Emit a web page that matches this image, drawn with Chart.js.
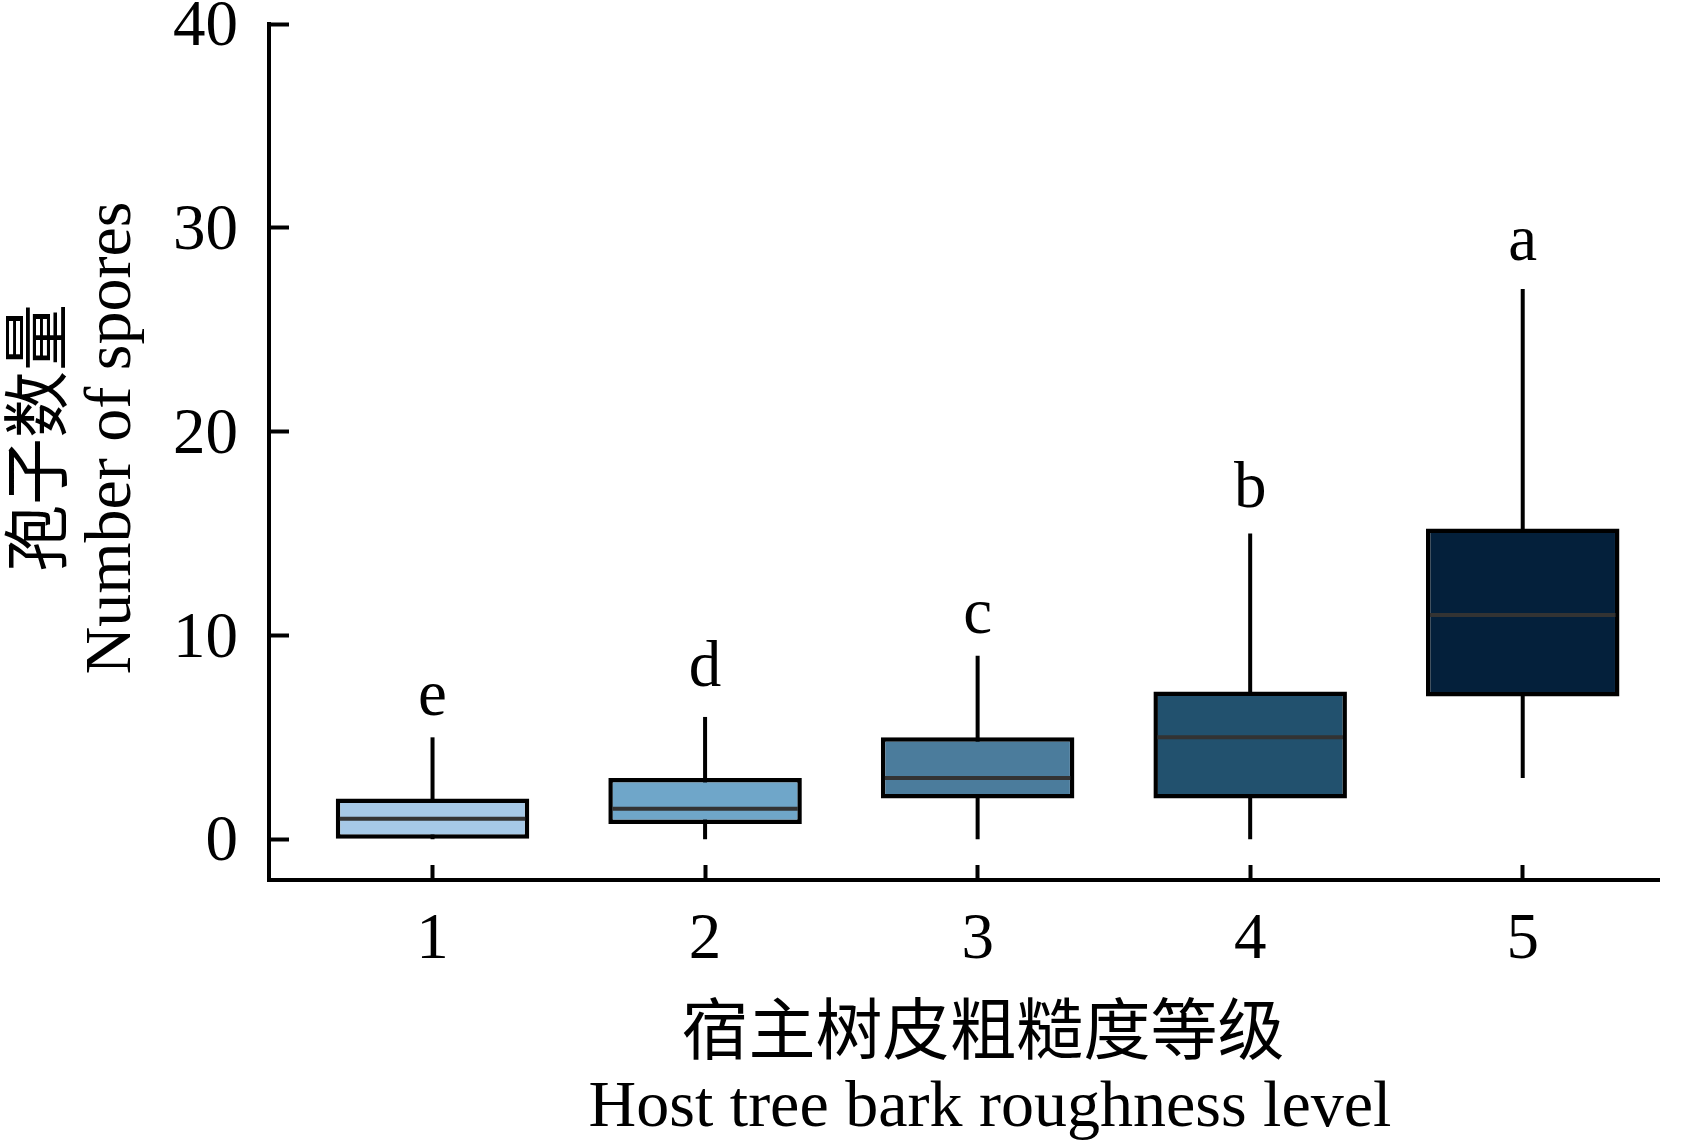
<!DOCTYPE html>
<html>
<head>
<meta charset="utf-8">
<script src="https://cdn.jsdelivr.net/npm/chart.js@4.4.1/dist/chart.umd.min.js"></script>
<style>
  html, body { margin: 0; padding: 0; background: #fff; }
  #wrap { width: 1689px; height: 1143px; }
</style>
</head>
<body>
<div id="wrap"><canvas id="mycanvas" width="1689" height="1143"></canvas></div>
<script>
// box plot values
var levels = [1, 2, 3, 4, 5];
var whiskerLow = [0, 0, 0, 0, 3];
var q1 = [0, 0.75, 2, 2, 7];
var median = [1, 1.5, 3, 5, 11];
var q3 = [2, 3, 5, 7.25, 15.25];
var whiskerHigh = [5, 6, 9, 15, 27];
var letters = ['e', 'd', 'c', 'b', 'a'];
var letterAt = [6.1, 7.5, 10.1, 16.3, 28.4];
var yTicks = [0, 10, 20, 30, 40];
var boxColors = ['#a6c9e7', '#6fa6c9', '#4b7c9c', '#22516e', '#04203b'];
var xTitle = ['宿主树皮粗糙度等级', 'Host tree bark roughness level'];
var yTitle = ['孢子数量', 'Number of spores'];

var serif = '"Liberation Serif", "Times New Roman", "Noto Sans CJK SC", serif';

var boxParts = {
    id: 'boxParts',
    beforeDatasetsDraw: function (chart) {
        var ctx = chart.ctx, xs = chart.scales.x, ys = chart.scales.y;
        ctx.save();
        ctx.strokeStyle = '#000';
        ctx.lineWidth = 4;
        for (var i = 0; i < levels.length; i++) {
            var px = xs.getPixelForValue(levels[i]);
            ctx.beginPath();
            ctx.moveTo(px, ys.getPixelForValue(whiskerLow[i]));
            ctx.lineTo(px, ys.getPixelForValue(whiskerHigh[i]));
            ctx.stroke();
        }
        ctx.restore();
    },
    afterDatasetsDraw: function (chart) {
        var ctx = chart.ctx, xs = chart.scales.x, ys = chart.scales.y;
        var bars = chart.getDatasetMeta(0).data;
        ctx.save();
        ctx.strokeStyle = '#333333';
        ctx.lineWidth = 4;
        for (var i = 0; i < bars.length; i++) {
            var b = bars[i];
            var py = ys.getPixelForValue(median[i]);
            ctx.beginPath();
            ctx.moveTo(b.x - b.width / 2 + 4, py);
            ctx.lineTo(b.x + b.width / 2 - 4, py);
            ctx.stroke();
        }
        ctx.fillStyle = '#000';
        ctx.font = '65px ' + serif;
        ctx.textAlign = 'center';
        ctx.textBaseline = 'alphabetic';
        for (var j = 0; j < letters.length; j++) {
            ctx.fillText(letters[j], xs.getPixelForValue(levels[j]), ys.getPixelForValue(letterAt[j]));
        }
        ctx.restore();
    },
    afterDraw: function (chart) {
        var ctx = chart.ctx;
        ctx.save();
        ctx.fillStyle = '#000';
        ctx.textAlign = 'center';
        // x title
        ctx.font = '67px ' + serif;
        ctx.textBaseline = 'middle';
        ctx.fillText(xTitle[0], 983, 1036);
        ctx.font = '66px ' + serif;
        ctx.textBaseline = 'alphabetic';
        ctx.fillText(xTitle[1], 990, 1126);
        // y title
        ctx.save();
        ctx.translate(43, 438);
        ctx.rotate(-Math.PI / 2);
        ctx.font = '67px ' + serif;
        ctx.textBaseline = 'middle';
        ctx.fillText(yTitle[0], 0, 0);
        ctx.restore();
        ctx.save();
        ctx.translate(130, 438);
        ctx.rotate(-Math.PI / 2);
        ctx.font = '66px ' + serif;
        ctx.textBaseline = 'alphabetic';
        ctx.fillText(yTitle[1], 0, 0);
        ctx.restore();
        ctx.restore();
    }
};

var ctx = document.getElementById('mycanvas');

var boxChart = new Chart(ctx, {
    type: 'bar',
    data: {
        datasets: [
            {
                data: levels.map(function (x, i) { return { x: x, y: [q1[i], q3[i]] }; }),
                backgroundColor: boxColors,
                borderColor: '#000',
                borderWidth: 4.5,
                borderSkipped: false,
                barPercentage: 0.71,
                categoryPercentage: 1
            }
        ]
    },
    options: {
        responsive: false,
        animation: false,
        devicePixelRatio: 1,
        layout: { padding: { top: 24, right: 30, left: 0, bottom: 0 } },
        plugins: { legend: { display: false }, tooltip: { enabled: false } },
        scales: {
            x: {
                type: 'linear',
                min: 0.4,
                max: 5.5,
                offset: false,
                afterBuildTicks: function (s) { s.ticks = levels.map(function (v) { return { value: v }; }); },
                afterFit: function (s) { s.height = 263; s.paddingLeft = 0; s.paddingRight = 0; },
                ticks: { font: { family: serif, size: 65 }, color: '#000', padding: 37, maxRotation: 0 },
                grid: { offset: false, drawOnChartArea: false, drawTicks: true, tickLength: -15, tickWidth: 4, tickColor: '#000' },
                border: { display: true, color: '#000', width: 4 }
            },
            y: {
                min: -2,
                max: 40,
                afterBuildTicks: function (s) { s.ticks = yTicks.map(function (v) { return { value: v }; }); },
                afterFit: function (s) { s.width = 269; s.paddingTop = 0; s.paddingBottom = 0; },
                ticks: { font: { family: serif, size: 65 }, color: '#000', padding: 51, labelOffset: 4 },
                grid: { drawOnChartArea: false, drawTicks: true, tickLength: -20, tickWidth: 4, tickColor: '#000' },
                border: { display: true, color: '#000', width: 4 }
            }
        }
    },
    plugins: [boxParts]
});
</script>
</body>
</html>
